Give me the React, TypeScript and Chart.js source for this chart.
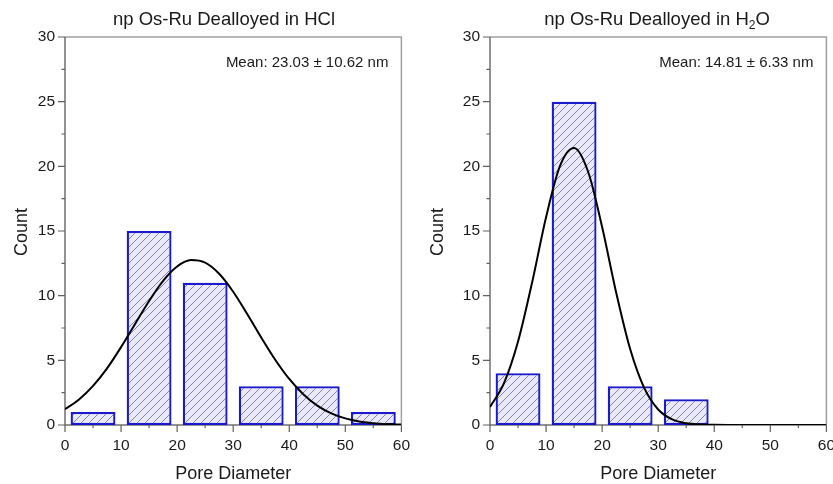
import React, { useEffect, useRef } from "react";
import { Chart, registerables } from "chart.js";
Chart.register(...registerables);

// ---- data ----
const binCenters = [5, 15, 25, 35, 45, 55];
const hclCounts: (number | null)[] = [1, 15, 11, 3, 3, 1];
const h2oCounts: (number | null)[] = [4, 25, 3, 2, null, null];

const fitX = [0, 2.5, 5, 7.5, 10, 12.5, 15, 17.5, 20, 22.5, 25, 27.5, 30, 32.5, 35, 37.5, 40, 42.5, 45, 47.5, 50, 52.5, 55, 57.5, 60];
const hclFit = [1.22, 1.97, 3.02, 4.38, 6.02, 7.81, 9.59, 11.15, 12.26, 12.75, 12.55, 11.69, 10.3, 8.58, 6.77, 5.05, 3.56, 2.38, 1.5, 0.9, 0.51, 0.27, 0.14, 0.07, 0.03];
const h2oFit = [1.39, 3.23, 6.45, 11.0, 16.06, 20.05, 21.42, 19.58, 15.31, 10.25, 5.87, 2.87, 1.2, 0.43, 0.13, 0.04, 0.01, 0, 0, 0, 0, 0, 0, 0, 0];

const xMajorTicks = [0, 10, 20, 30, 40, 50, 60];
const yMajorTicks = [0, 5, 10, 15, 20, 25, 30];

const hclTitle = ["np Os-Ru Dealloyed in HCl"];
const h2oTitle = ["np Os-Ru Dealloyed in H", "2", "O"];
const hclMean = "Mean: 23.03 \u00b1 10.62 nm";
const h2oMean = "Mean: 14.81 \u00b1 6.33 nm";
const xTitle = "Pore Diameter";
const yTitle = "Count";

const FONT = "Arial, 'Liberation Sans', sans-serif";

function makePattern(): CanvasPattern | string {
  const c = document.createElement("canvas");
  c.width = 8;
  c.height = 8;
  const g = c.getContext("2d");
  if (!g) return "#e8e8f8";
  g.fillStyle = "#e9e9f8";
  g.fillRect(0, 0, 8, 8);
  g.strokeStyle = "#8585b0";
  g.lineWidth = 1;
  g.beginPath();
  g.moveTo(-1, 9);
  g.lineTo(9, -1);
  g.moveTo(-1, 1);
  g.lineTo(1, -1);
  g.moveTo(7, 9);
  g.lineTo(9, 7);
  g.stroke();
  const p = g.createPattern(c, "repeat");
  return p || "#e8e8f8";
}

type PanelProps = {
  left: number;
  width: number;
  counts: (number | null)[];
  fit: number[];
  title: string[];
  mean: string;
  titleX: number;
  yAxisWidth: number;
  rightPad: number;
};

function Panel(props: PanelProps) {
  const ref = useRef<HTMLCanvasElement>(null);
  useEffect(() => {
    if (!ref.current) return;
    const { counts, fit, title, mean, titleX, yAxisWidth, rightPad } = props;

    const decor = {
      id: "decor",
      beforeDatasetsDraw(chart: any) {
        const ctx = chart.ctx as CanvasRenderingContext2D;
        const a = chart.chartArea;
        const xs = chart.scales.x;
        const ys = chart.scales.y;
        ctx.save();
        // frame
        ctx.lineWidth = 1.5;
        ctx.strokeStyle = "#a0a0a0";
        ctx.beginPath();
        ctx.moveTo(a.left, a.top);
        ctx.lineTo(a.right, a.top);
        ctx.lineTo(a.right, a.bottom);
        ctx.stroke();
        ctx.strokeStyle = "#707070";
        ctx.beginPath();
        ctx.moveTo(a.left, a.top);
        ctx.lineTo(a.left, a.bottom);
        ctx.lineTo(a.right, a.bottom);
        ctx.stroke();
        // ticks
        ctx.lineWidth = 1.2;
        ctx.strokeStyle = "#606060";
        ctx.beginPath();
        for (const v of xMajorTicks) {
          const px = xs.getPixelForValue(v);
          ctx.moveTo(px, a.bottom);
          ctx.lineTo(px, a.bottom + 7);
          if (v < 60) {
            const pm = xs.getPixelForValue(v + 5);
            ctx.moveTo(pm, a.bottom);
            ctx.lineTo(pm, a.bottom + 3);
          }
        }
        for (const v of yMajorTicks) {
          const py = ys.getPixelForValue(v);
          ctx.moveTo(a.left, py);
          ctx.lineTo(a.left - 7, py);
          if (v < 30) {
            const pm = ys.getPixelForValue(v + 2.5);
            ctx.moveTo(a.left, pm);
            ctx.lineTo(a.left - 3.5, pm);
          }
        }
        ctx.stroke();
        ctx.restore();
      },
      afterDraw(chart: any) {
        const ctx = chart.ctx as CanvasRenderingContext2D;
        const a = chart.chartArea;
        ctx.save();
        ctx.fillStyle = "#1a1a1a";
        // title
        ctx.textBaseline = "alphabetic";
        const mainFont = `18.5px ${FONT}`;
        const subFont = `12px ${FONT}`;
        let total = 0;
        const widths: number[] = [];
        title.forEach((t, i) => {
          ctx.font = i === 1 ? subFont : mainFont;
          const w = ctx.measureText(t).width;
          widths.push(w);
          total += w;
        });
        let x = titleX - total / 2;
        title.forEach((t, i) => {
          ctx.font = i === 1 ? subFont : mainFont;
          ctx.textAlign = "left";
          ctx.fillText(t, x, i === 1 ? 29 : 25);
          x += widths[i];
        });
        // mean
        ctx.font = `15px ${FONT}`;
        ctx.textAlign = "right";
        ctx.textBaseline = "middle";
        ctx.fillText(mean, a.right - 13, a.top + 26);
        // x title
        ctx.font = `18px ${FONT}`;
        ctx.textAlign = "center";
        ctx.textBaseline = "alphabetic";
        ctx.fillText(xTitle, (a.left + a.right) / 2, 479);
        // y title
        ctx.translate(27, (a.top + a.bottom) / 2 + 1);
        ctx.rotate(-Math.PI / 2);
        ctx.fillText(yTitle, 0, 0);
        ctx.restore();
      },
    };

    const chart = new Chart(ref.current, {
      type: "bar",
      data: {
        datasets: [
          {
            type: "line",
            data: fitX.map((xv, i) => ({ x: xv, y: fit[i] })),
            borderColor: "#000000",
            borderWidth: 2,
            pointRadius: 0,
            cubicInterpolationMode: "monotone",
            fill: false,
            order: 0,
          } as any,
          {
            type: "bar",
            data: binCenters.map((xv, i) => ({ x: xv, y: counts[i] })),
            backgroundColor: makePattern(),
            borderColor: "#1a1acc",
            borderWidth: 2.3,
            borderSkipped: false,
            barPercentage: 0.8,
            categoryPercentage: 1,
            order: 1,
          } as any,
        ],
      },
      options: {
        animation: false,
        responsive: false,
        maintainAspectRatio: false,
        events: [],
        layout: { padding: { top: 37, right: rightPad, left: 0, bottom: 0 } },
        plugins: { legend: { display: false }, tooltip: { enabled: false }, title: { display: false } },
        scales: {
          x: {
            type: "linear",
            min: 0,
            max: 60,
            offset: false,
            grid: { display: false, drawTicks: false },
            border: { display: false },
            ticks: {
              stepSize: 10,
              autoSkip: false,
              maxRotation: 0,
              minRotation: 0,
              padding: 11,
              color: "#1a1a1a",
              font: { family: FONT, size: 15.5 },
            },
            afterFit: (s: any) => {
              s.height = 59;
            },
          },
          y: {
            type: "linear",
            min: 0,
            max: 30,
            grid: { display: false, drawTicks: false },
            border: { display: false },
            ticks: {
              stepSize: 5,
              padding: 10,
              color: "#1a1a1a",
              font: { family: FONT, size: 15.5 },
            },
            afterFit: (s: any) => {
              s.width = yAxisWidth;
            },
          },
        },
      },
      plugins: [decor],
    } as any);
    return () => chart.destroy();
  }, []);
  return (
    <canvas
      ref={ref}
      width={props.width}
      height={484}
      style={{ position: "absolute", left: props.left, top: 0, width: props.width, height: 484 }}
    />
  );
}

export default function App() {
  return (
    <div
      style={{
        position: "absolute",
        left: 0,
        top: 0,
        width: 833,
        height: 484,
        overflow: "hidden",
        background: "#ffffff",
      }}
    >
      <Panel left={0} width={421} counts={hclCounts} fit={hclFit} title={hclTitle} mean={hclMean} titleX={224} yAxisWidth={65} rightPad={19} />
      <Panel left={416} width={430} counts={h2oCounts} fit={h2oFit} title={h2oTitle} mean={h2oMean} titleX={241} yAxisWidth={74} rightPad={19} />
    </div>
  );
}
